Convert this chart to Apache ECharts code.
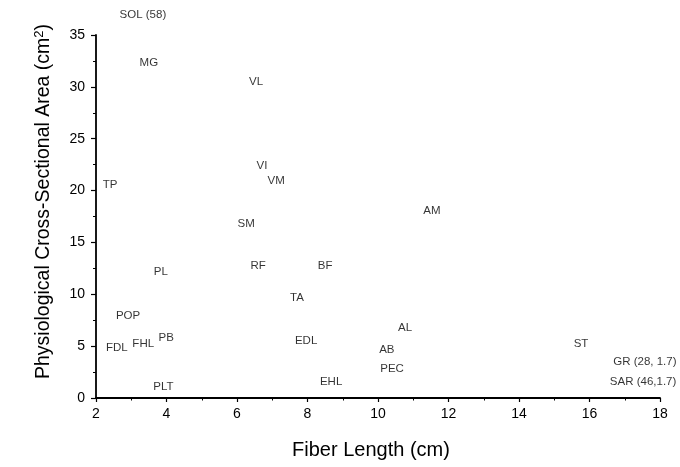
<!DOCTYPE html>
<html>
<head>
<meta charset="utf-8">
<script src="https://cdn.jsdelivr.net/npm/echarts@6/dist/echarts.min.js"></script>
<style>html,body{margin:0;padding:0;background:#fff}#c{width:680px;height:467px}</style>
</head>
<body>
<div id="c"></div>
<script>
const muscles = ['SOL (58)','MG','VL','VI','VM','TP','SM','AM','PL','RF','BF','TA','POP','PB','FHL','FDL','EDL','PLT','EHL','AL','AB','PEC','ST','GR (28, 1.7)','SAR (46,1.7)'];
const fiberLength = [3.33,3.50,6.54,6.71,7.11,2.40,6.26,11.53,3.84,6.60,8.50,7.70,2.91,3.99,3.34,2.59,7.96,3.91,8.67,10.77,10.25,10.40,15.76,17.57,17.52];
const pcsa = [36.9,32.3,30.5,22.4,20.9,20.6,16.8,18.0,12.2,12.7,12.7,9.7,7.9,5.8,5.2,4.8,5.5,1.1,1.6,6.75,4.6,2.8,5.2,3.5,1.6];
const xTicks = [2,4,6,8,10,12,14,16,18];
const yTicks = [0,5,10,15,20,25,30,35];

const FONT = '"Liberation Sans", Arial, Helvetica, sans-serif';
const points = muscles.map((m, i) => ({ name: m, value: [fiberLength[i], pcsa[i]] }));

const chart = echarts.init(document.getElementById('c'), null, { renderer: 'canvas' });
chart.setOption({
  backgroundColor: '#fff',
  animation: false,
  grid: { left: 96, right: 20, top: 35, bottom: 69, containLabel: false },
  xAxis: {
    type: 'value', min: xTicks[0], max: xTicks[xTicks.length - 1], interval: 2,
    name: 'Fiber Length (cm)', nameLocation: 'middle', nameGap: 42,
    nameTextStyle: { fontFamily: FONT, fontSize: 20, color: '#000', padding: [0, 14, 0, 0] },
    axisLine: { show: true, onZero: false, lineStyle: { color: '#000', width: 1.8 } },
    axisTick: { show: true, inside: false, length: 4, lineStyle: { color: '#000', width: 1.2 } },
    minorTick: { show: true, splitNumber: 2, length: 2.5, lineStyle: { color: '#000', width: 1 } },
    axisLabel: { fontFamily: FONT, fontSize: 14, color: '#000', margin: 9 },
    splitLine: { show: false }
  },
  yAxis: {
    type: 'value', min: yTicks[0], max: yTicks[yTicks.length - 1], interval: 5,
    name: 'Physiological Cross-Sectional Area (cm{sup|2})', nameLocation: 'middle', nameGap: 42, nameRotate: 90,
    nameTextStyle: { fontFamily: FONT, fontSize: 19.5, color: '#000', padding: [0, 0, 0, 30],
      rich: { sup: { fontFamily: FONT, fontSize: 13, color: '#000', verticalAlign: 'top', padding: [0, 0, 8, 0] } } },
    axisLine: { show: true, onZero: false, lineStyle: { color: '#000', width: 1.8 } },
    axisTick: { show: true, inside: false, length: 5, lineStyle: { color: '#000', width: 1.2 } },
    minorTick: { show: true, splitNumber: 2, length: 3, lineStyle: { color: '#000', width: 1 } },
    axisLabel: { fontFamily: FONT, fontSize: 14, color: '#000', margin: 11 },
    splitLine: { show: false }
  },
  series: [{
    type: 'scatter',
    clip: false,
    symbolSize: 1,
    itemStyle: { color: 'rgba(0,0,0,0)' },
    data: points,
    label: {
      show: true, position: 'inside', formatter: p => p.name,
      fontFamily: FONT, fontSize: 11.5, color: '#000'
    },
    labelLayout: { hideOverlap: false },
    emphasis: { disabled: true }
  }]
});
</script>
</body>
</html>
